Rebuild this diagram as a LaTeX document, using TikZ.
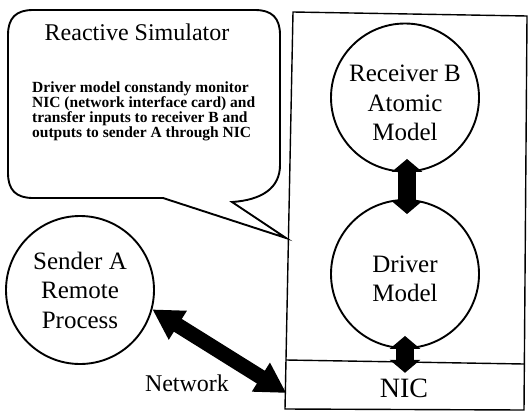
\documentclass[tikz,border=0pt]{standalone}
\usepackage{fontspec}
\setmainfont{Liberation Serif}
\usetikzlibrary{arrows.meta,calc}
\begin{document}
\begin{tikzpicture}[x=1pt,y=-1pt,
  model/.style={draw, circle, line width=1.9pt, minimum size=148pt, inner sep=0pt},
  bigtext/.style={font=\fontsize{25}{29.5}\selectfont, align=center, inner sep=0pt},
  fatarrow/.style={line width=18pt, {Triangle[width=30pt,length=13pt]}-{Triangle[width=30pt,length=13pt]}},
  netarrow/.style={line width=15pt, {Triangle[width=32pt,length=30pt]}-{Triangle[width=32pt,length=30pt]}},
]
\useasboundingbox (0,0) rectangle (529,415);

% simulator frame with the NIC compartment at its foot
\coordinate (f1) at (293,12);
\coordinate (f2) at (527,16);
\coordinate (f3) at (524,410);
\coordinate (f4) at (285,409);
\draw[line width=1.4pt] (f1) -- (f2) -- (f3) -- (f4) -- cycle;
\coordinate (n1) at (286,360);
\coordinate (n2) at (524,364);
\draw[line width=1.4pt] (n1) -- (n2);

% speech bubble of the reactive simulator
\draw[line width=1.9pt]
  (163,198) -- (286,238) -- (232,202)
  .. controls (262,200) and (280,188) .. (280,165)
  -- (280,35) .. controls (280,18) and (272,10) .. (255,10)
  -- (33,10) .. controls (16,10) and (8,18) .. (8,35)
  -- (8,173) .. controls (8,190) and (16,198) .. (33,198) -- cycle;
\node[font=\fontsize{24}{28}\selectfont] (title) at (137,32) {Reactive Simulator};
\node[font=\bfseries\fontsize{15.5}{15}\selectfont, align=left, anchor=west, inner sep=0pt]
  (note) at (32,111) {Driver model constandy monitor\\NIC (network interface card) and\\transfer inputs to receiver B and\\outputs to sender A through NIC};

% models
\node[model] (r) at (405,97.5) {};
\node[bigtext] (rt) at (405,103) {Receiver B\\Atomic\\Model};
\node[model] (d) at (405,274) {};
\node[bigtext] (dt) at (405,279) {Driver\\Model};
\node[model] (s) at (80,290) {};
\node[bigtext] (st) at (80,290) {Sender A\\Remote\\Process};

% NIC compartment and network label
\node[minimum width=237pt, minimum height=48pt, inner sep=0pt] (nic) at (405,385) {};
\node[font=\fontsize{28}{30}\selectfont, inner sep=0pt] (nict) at (404,388) {NIC};
\node[font=\fontsize{24}{28}\selectfont, inner sep=0pt] (net) at (187,383) {Network};

% data flow
\draw[fatarrow, shorten <=-13.5pt, shorten >=-15pt] ([xshift=2pt]r.south) -- ([xshift=2pt]d.north);
\draw[fatarrow, shorten <=-13pt, shorten >=-12pt] (d.south) -- (nic.north);
\draw[netarrow] (s.-15) -- ($(nic.west)+(0,8)$);
\end{tikzpicture}
\end{document}
